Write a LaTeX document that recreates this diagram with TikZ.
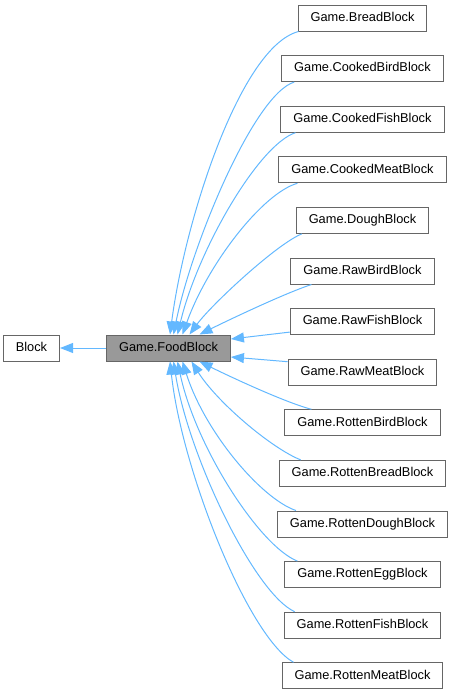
\documentclass[tikz,border=0pt]{standalone}
\usepackage{fontspec}
\setmainfont{Liberation Sans}
\usepackage{xcolor}
\usepackage{tikz}
\usetikzlibrary{arrows.meta,positioning}
\definecolor{edgeblue}{HTML}{63B8FF}
\definecolor{nodegray}{HTML}{666666}
\definecolor{curfill}{HTML}{999999}

\begin{document}
\begin{tikzpicture}[
  x=1pt, y=-1pt,
  node distance=23.6pt and 46pt,
  box/.style={draw=nodegray, line width=1pt, fill=white, minimum height=26pt, inner xsep=12.5pt,
    text height=9pt, text depth=2.5pt, font=\fontsize{12.8}{15}\selectfont},
  current/.style={box, fill=curfill},
  arrow/.style={-{Triangle[length=13pt, width=10pt]}, line width=1pt, draw=edgeblue}
]
\useasboundingbox (0,0) rectangle (454,696);
\node[box] (bread) at (362.5,18) {Game.BreadBlock};
\node[box, below=of bread] (cbird) {Game.CookedBirdBlock};
\node[box, below=of cbird] (cfish) {Game.CookedFishBlock};
\node[box, below=of cfish] (cmeat) {Game.CookedMeatBlock};
\node[box, below=of cmeat] (dough) {Game.DoughBlock};
\node[box, below=of dough] (rbird) {Game.RawBirdBlock};
\node[box, below=of rbird] (rfish) {Game.RawFishBlock};
\node[box, below=of rfish] (rmeat) {Game.RawMeatBlock};
\node[box, below=of rmeat] (robird) {Game.RottenBirdBlock};
\node[box, below=of robird] (robread) {Game.RottenBreadBlock};
\node[box, below=of robread] (rodough) {Game.RottenDoughBlock};
\node[box, below=of rodough] (roegg) {Game.RottenEggBlock};
\node[box, below=of roegg] (rofish) {Game.RottenFishBlock};
\node[box, below=of rofish] (romeat) {Game.RottenMeatBlock};
\node[current] (food) at (168.5,348) {Game.FoodBlock};
\node[box, left=of food] (block) {Block};
\draw[arrow] (food) -- (block);
\draw[arrow] ([xshift=1pt]bread.south west) .. controls +(-58,15) and +(15,-115) .. ([xshift=1.5pt]food.north);
\draw[arrow] ([xshift=13pt]cbird.south west) .. controls +(-40,12) and +(18,-90) .. ([xshift=5pt]food.north);
\draw[arrow] ([xshift=15pt]cfish.south west) .. controls +(-37,12) and +(20,-84) .. ([xshift=9pt]food.north);
\draw[arrow] ([xshift=19pt]cmeat.south west) .. controls +(-35,10) and +(25,-70) .. ([xshift=14pt]food.north);
\draw[arrow] ([xshift=6pt]dough.south west) .. controls +(-25,10) and +(22,-30) .. ([xshift=21pt]food.north);
\draw[arrow] ([xshift=21pt]rbird.south west) .. controls +(-30,10) and +(20,-10) .. ([xshift=31pt]food.north);
\draw[arrow] ([yshift=3pt]rfish.south west) -- ([yshift=9pt]food.east);
\draw[arrow] ([yshift=-3pt]rmeat.north west) -- ([yshift=-9pt]food.east);
\draw[arrow] ([xshift=27pt]robird.north west) .. controls +(-30,-8) and +(20,10) .. ([xshift=31pt]food.south);
\draw[arrow] ([xshift=22pt]robread.north west) .. controls +(-30,-12) and +(25,40) .. ([xshift=23pt]food.south);
\draw[arrow] ([xshift=19pt]rodough.north west) .. controls +(-35,-12) and +(22,70) .. ([xshift=14pt]food.south);
\draw[arrow] ([xshift=13pt]roegg.north west) .. controls +(-38,-15) and +(18,85) .. ([xshift=9pt]food.south);
\draw[arrow] ([xshift=11pt]rofish.north west) .. controls +(-40,-18) and +(15,95) .. ([xshift=5pt]food.south);
\draw[arrow] ([xshift=12pt]romeat.north west) .. controls +(-45,-25) and +(12,110) .. ([xshift=1.5pt]food.south);
\end{tikzpicture}
\end{document}
